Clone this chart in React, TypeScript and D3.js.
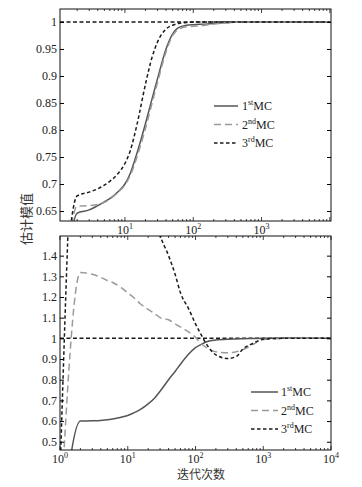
import React, { useEffect, useRef } from "react";
import * as d3 from "d3";

// iteration counts (log x)
const iterTop = [1, 2, 3, 4, 5, 6, 8, 10, 12, 15, 20, 25, 30, 40, 50, 60, 80, 100, 150, 200, 300, 500, 1000, 2000, 5000, 10000];
const top1st = [0.3, 0.646, 0.652, 0.66, 0.667, 0.673, 0.686, 0.7, 0.72, 0.757, 0.812, 0.858, 0.895, 0.95, 0.978, 0.989, 0.994, 0.995, 0.996, 0.997, 0.999, 1, 1, 1, 1, 1];
const top2nd = [0.3, 0.659, 0.66, 0.662, 0.666, 0.672, 0.685, 0.698, 0.716, 0.75, 0.803, 0.85, 0.888, 0.945, 0.975, 0.986, 0.991, 0.992, 0.994, 0.996, 0.998, 1, 1, 1, 1, 1];
const top3rd = [0.3, 0.678, 0.685, 0.691, 0.698, 0.705, 0.72, 0.738, 0.762, 0.81, 0.885, 0.935, 0.963, 0.987, 0.994, 0.997, 0.999, 1, 1, 1, 1, 1, 1, 1, 1, 1];

const iterBottom = [1, 2, 3, 4, 5, 6, 8, 10, 12, 15, 20, 25, 30, 40, 50, 60, 80, 100, 120, 150, 200, 300, 400, 500, 700, 1000, 2000, 5000, 10000];
const bottom1st = [0.0, 0.6, 0.601, 0.603, 0.606, 0.61, 0.618, 0.627, 0.638, 0.654, 0.683, 0.712, 0.744, 0.8, 0.84, 0.875, 0.925, 0.955, 0.97, 0.985, 0.992, 0.996, 0.997, 0.998, 0.999, 1, 1, 1, 1];
const bottom2nd = [0.1, 1.318, 1.31, 1.295, 1.28, 1.27, 1.245, 1.22, 1.2, 1.17, 1.14, 1.12, 1.1, 1.09, 1.07, 1.055, 1.03, 1.005, 0.975, 0.952, 0.935, 0.93, 0.935, 0.945, 0.97, 0.995, 1, 1, 1];
const bottom3rd = [0.34, 2.44, 2.4, 2.3, 2.2, 2.1, 2.0, 1.95, 1.88, 1.8, 1.72, 1.6, 1.5, 1.4, 1.31, 1.22, 1.14, 1.07, 1.02, 0.965, 0.92, 0.903, 0.912, 0.948, 0.975, 0.996, 1, 1, 1];

const topYTicks = [0.65, 0.7, 0.75, 0.8, 0.85, 0.9, 0.95, 1];
const bottomYTicks = [0.5, 0.6, 0.7, 0.8, 0.9, 1, 1.1, 1.2, 1.3, 1.4];
const topXLabels = [1, 2, 3];
const bottomXLabels = [0, 1, 2, 3, 4];

const legendNames = [
  { n: "1", sup: "st" },
  { n: "2", sup: "nd" },
  { n: "3", sup: "rd" },
];

const styles = [
  { color: "#555", dash: null as string | null },
  { color: "#9a9a9a", dash: "7,4" },
  { color: "#1a1a1a", dash: "3.5,2.5" },
];

const serif = "'Liberation Serif', 'DejaVu Serif', serif";

export default function App() {
  const ref = useRef<SVGSVGElement>(null);

  useEffect(() => {
    if (!ref.current) return;
    const svg = d3.select(ref.current);
    svg.selectAll("*").remove();

    const panels = [
      {
        id: "top",
        x: d3.scaleLog().domain([1.12, 1.04e4]).range([60, 331]),
        y: d3.scaleLinear().domain([0.6315, 1.024]).range([221, 9]),
        iters: iterTop,
        series: [top1st, top2nd, top3rd],
        yTicks: topYTicks,
        xLabels: topXLabels,
        legend: { x1: 214, x2: 238, tx: 242, y0: 106, dy: 18.5 },
      },
      {
        id: "bottom",
        x: d3.scaleLog().domain([1, 1e4]).range([60, 331]),
        y: d3.scaleLinear().domain([0.46, 1.495]).range([450, 236]),
        iters: iterBottom,
        series: [bottom1st, bottom2nd, bottom3rd],
        yTicks: bottomYTicks,
        xLabels: bottomXLabels,
        legend: { x1: 251, x2: 278, tx: 281, y0: 392, dy: 18.5 },
      },
    ];

    panels.forEach((p) => {
      const [x0, x1] = p.x.range();
      const [y1, y0] = p.y.range();
      const g = svg.append("g");

      g.append("clipPath")
        .attr("id", `clip-${p.id}`)
        .append("rect")
        .attr("x", x0)
        .attr("y", y0)
        .attr("width", x1 - x0)
        .attr("height", y1 - y0);

      const plot = g.append("g").attr("clip-path", `url(#clip-${p.id})`);

      // reference line at 1
      plot
        .append("line")
        .attr("x1", x0)
        .attr("x2", x1)
        .attr("y1", p.y(1))
        .attr("y2", p.y(1))
        .attr("stroke", "#1a1a1a")
        .attr("stroke-width", 1.5)
        .attr("stroke-dasharray", "4,2.5");

      const line = d3
        .line<number>()
        .x((_, i) => p.x(p.iters[i]))
        .y((d) => p.y(d))
        .curve(d3.curveMonotoneX);

      p.series.forEach((s, i) => {
        plot
          .append("path")
          .attr("d", line(s))
          .attr("fill", "none")
          .attr("stroke", styles[i].color)
          .attr("stroke-width", 1.5)
          .attr("stroke-dasharray", styles[i].dash);
      });

      // frame
      g.append("rect")
        .attr("x", x0)
        .attr("y", y0)
        .attr("width", x1 - x0)
        .attr("height", y1 - y0)
        .attr("fill", "none")
        .attr("stroke", "#111")
        .attr("stroke-width", 1);

      // y axes, ticks inward
      const yl = g
        .append("g")
        .attr("transform", `translate(${x0},0)`)
        .call(
          d3
            .axisLeft(p.y)
            .tickValues(p.yTicks)
            .tickSize(-4)
            .tickPadding(3)
            .tickFormat((d) => String(+d))
        );
      yl.select(".domain").remove();
      yl.selectAll("text").attr("font-family", serif).attr("font-size", 12).attr("fill", "#222");

      const yr = g
        .append("g")
        .attr("transform", `translate(${x1},0)`)
        .call(d3.axisRight(p.y).tickValues(p.yTicks).tickSize(-4).tickFormat(() => ""));
      yr.select(".domain").remove();

      // x ticks (log minor + major), top and bottom
      const [d0, d1] = p.x.domain();
      const minor: number[] = [];
      const major: number[] = [];
      for (let e = 0; e <= 4; e++) {
        for (let m = 1; m <= 9; m++) {
          const v = m * Math.pow(10, e);
          if (v < d0 || v > d1) continue;
          (m === 1 ? major : minor).push(v);
        }
      }
      [
        { y: y1, dir: -1 },
        { y: y0, dir: 1 },
      ].forEach(({ y, dir }) => {
        g.append("g")
          .selectAll("line")
          .data([...minor.map((v) => ({ v, l: 2 })), ...major.map((v) => ({ v, l: 4 }))])
          .join("line")
          .attr("x1", (d) => p.x(d.v))
          .attr("x2", (d) => p.x(d.v))
          .attr("y1", y)
          .attr("y2", (d) => y + dir * d.l)
          .attr("stroke", "#111")
          .attr("stroke-width", 0.8);
      });

      // x tick labels 10^n
      const lab = g
        .append("g")
        .selectAll("text")
        .data(p.xLabels)
        .join("text")
        .attr("x", (e) => p.x(Math.pow(10, e)))
        .attr("y", y1 + 13)
        .attr("text-anchor", "middle")
        .attr("font-family", serif)
        .attr("font-size", 12)
        .attr("fill", "#222");
      lab.append("tspan").text("10");
      lab
        .append("tspan")
        .attr("dy", -5)
        .attr("font-size", 8)
        .text((e) => String(e));

      // legend
      const lg = g.append("g");
      legendNames.forEach((nm, i) => {
        const ly = p.legend.y0 + i * p.legend.dy;
        lg.append("line")
          .attr("x1", p.legend.x1)
          .attr("x2", p.legend.x2)
          .attr("y1", ly)
          .attr("y2", ly)
          .attr("stroke", styles[i].color)
          .attr("stroke-width", 1.5)
          .attr("stroke-dasharray", styles[i].dash);
        const t = lg
          .append("text")
          .attr("x", p.legend.tx)
          .attr("y", ly + 4)
          .attr("font-family", serif)
          .attr("font-size", 12)
          .attr("fill", "#222");
        t.append("tspan").text(nm.n);
        t.append("tspan").attr("dy", -5).attr("font-size", 8).text(nm.sup);
        t.append("tspan").attr("dy", 5).text("MC");
      });
    });

    // axis titles
    svg
      .append("text")
      .attr("transform", "translate(31,219) rotate(-90)")
      .attr("text-anchor", "middle")
      .attr("font-family", "'Noto Sans CJK SC', sans-serif")
      .attr("font-size", 13)
      .attr("fill", "#333")
      .text("估计模值");

    svg
      .append("text")
      .attr("x", 201)
      .attr("y", 479)
      .attr("text-anchor", "middle")
      .attr("font-family", "'Noto Sans CJK SC', sans-serif")
      .attr("font-size", 12)
      .attr("fill", "#333")
      .text("迭代次数");
  }, []);

  return (
    <svg
      ref={ref}
      width={362}
      height={487}
      style={{ position: "absolute", left: 0, top: 0, background: "#fff" }}
    />
  );
}
